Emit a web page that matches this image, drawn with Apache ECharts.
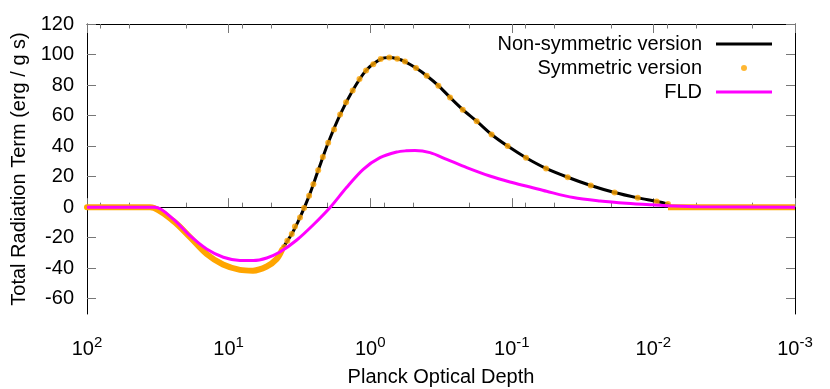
<!DOCTYPE html>
<html>
<head>
<meta charset="utf-8">
<script src="https://cdn.jsdelivr.net/npm/echarts@6/dist/echarts.min.js"></script>
<style>
  html, body { margin: 0; padding: 0; background: #fff; }
  #chart { width: 830px; height: 389px; }
</style>
</head>
<body>
<div id="chart"></div>
<script>
// Planck optical depth (x) and total radiation term (y)

// non-symmetric version (black line)
const nonSymTau  = [100, 35.9, 24.7, 18.75, 14.3, 10.96, 8.32, 6.73, 5.38, 4.57, 4.11, 3.58, 3.13, 2.70, 2.33, 1.98, 1.63, 1.33, 1.07, 0.843, 0.733, 0.644, 0.568, 0.475, 0.399, 0.330, 0.273, 0.222, 0.177, 0.139, 0.107, 0.0794, 0.0573, 0.0403, 0.0277, 0.0188, 0.0129, 0.00948, 0.00789, 0.00741, 0.001];
const nonSymTerm = [0, 0, -8.9, -19.6, -30.7, -37.6, -41.1, -41.6, -38.9, -33.9, -26.3, -17.6, -6.7, 7.4, 24.1, 42.2, 60.7, 76.5, 89.6, 97.0, 98.0, 97.2, 95.4, 91.1, 86.1, 79.6, 71.9, 63.9, 56.3, 47.6, 40.0, 32.4, 25.4, 19.6, 14.2, 9.6, 6.1, 3.7, 2.0, 0, 0];

// symmetric version: separate dots
const symTau  = [4.06, 3.85, 3.58, 3.40, 3.13, 2.93, 2.70, 2.52, 2.33, 2.16, 1.98, 1.80, 1.63, 1.48, 1.33, 1.19, 1.07, 0.951, 0.843, 0.733, 0.644, 0.568, 0.475, 0.399, 0.330, 0.273, 0.222, 0.177, 0.139, 0.107, 0.0794, 0.0573, 0.0403, 0.0277, 0.0188, 0.0129, 0.00948, 0.00789];
const symTerm = [-26.1, -22.0, -17.6, -12.6, -6.7, -0.6, 7.4, 15.0, 24.1, 32.8, 42.2, 50.9, 60.7, 68.7, 76.5, 84.0, 89.6, 93.7, 97.0, 98.0, 97.2, 95.4, 91.1, 86.1, 79.6, 71.9, 63.9, 56.3, 47.6, 40.0, 32.4, 25.4, 19.6, 14.2, 9.6, 6.1, 3.7, 2.0];
// symmetric version: dots so dense they merge into a band
const symBandTau  = [100, 35.9, 24.7, 18.75, 14.3, 10.96, 8.32, 6.73, 5.38, 4.57, 4.2];
const symBandTerm = [0, 0, -8.9, -19.6, -30.7, -37.6, -41.1, -41.6, -38.9, -33.9, -28.0];
const symTailTau  = [0.00789, 0.001];
const symTailTerm = [0, 0];

// FLD (magenta line)
const fldTau  = [100, 33.1, 24.6, 18.75, 14.3, 10.9, 8.32, 6.70, 5.38, 4.34, 3.30, 2.52, 1.92, 1.47, 1.12, 0.853, 0.650, 0.560, 0.483, 0.378, 0.288, 0.208, 0.143, 0.103, 0.0743, 0.0568, 0.0368, 0.0238, 0.0155, 0.01, 0.0072, 0.0047, 0.001];
const fldTerm = [0, 0, -7.8, -18.7, -27.4, -32.8, -34.9, -35.0, -33.3, -29.4, -21.5, -11.5, -0.2, 12.9, 24.8, 32.4, 36.1, 36.9, 37.1, 35.7, 31.3, 25.9, 20.4, 16.5, 13.2, 10.4, 6.3, 4.1, 2.6, 1.5, 0.8, 0.3, 0];

// axis ticks
const xMinorTicks = [80, 50, 20, 8, 5, 2, 0.8, 0.5, 0.2, 0.08, 0.05, 0.02, 0.008, 0.005, 0.002];
const yTicks = [-60, -40, -20, 0, 20, 40, 60, 80, 100, 120];

const FONT = 'Liberation Sans, Arial, sans-serif';
const TICK_COLOR = '#777';
const LINE_ICON = 'path://M0,0H56V3H0Z';

function pairs(xs, ys) {
    return xs.map((x, i) => [x, ys[i]]);
}

// 对数轴：主刻度 / 次刻度 / 上下镜像
function logAxis(position, opts) {
    return Object.assign({
        type: 'log',
        logBase: 10,
        inverse: true,
        min: 0.001,
        max: 100,
        position: position,
        gridIndex: 0,
        splitLine: { show: false },
        axisLine: { show: false },
        axisLabel: { show: false },
        axisTick: { show: false }
    }, opts);
}

function valueAxis(position, opts) {
    return Object.assign({
        type: 'value',
        min: -70,
        max: 120,
        position: position,
        splitLine: { show: false },
        axisLine: { show: true, lineStyle: { color: '#000', width: 1 } },
        axisTick: { show: true, inside: true, length: 9, customValues: yTicks, lineStyle: { color: TICK_COLOR } },
        axisLabel: { show: false }
    }, opts);
}

const chart = echarts.init(document.getElementById('chart'), null, { renderer: 'canvas' });

chart.setOption({
    animation: false,
    backgroundColor: '#fff',
    textStyle: { fontFamily: FONT },
    grid: {
        left: 87, right: 35, top: 24, bottom: 75,
        containLabel: false,
        outerBoundsMode: 'none'
    },
    legend: {
        orient: 'vertical',
        right: 58,
        top: 34,
        padding: 0,
        align: 'right',
        itemWidth: 56,
        itemHeight: 6,
        itemGap: 4,
        selectedMode: false,
        textStyle: { fontSize: 20, color: '#000', fontFamily: FONT, padding: [0, 9, 0, 0] },
        data: [
            { name: 'Non-symmetric version', icon: LINE_ICON },
            { name: 'Symmetric version', icon: 'circle' },
            { name: 'FLD', icon: LINE_ICON }
        ]
    },
    xAxis: [
        logAxis('bottom', {
            axisLine: { show: true, lineStyle: { color: '#000', width: 1 } },
            axisTick: { show: true, inside: true, length: 9, lineStyle: { color: TICK_COLOR } },
            axisLabel: {
                show: true,
                margin: 21,
                color: '#000',
                formatter: v => '{b|10}{sup|' + Math.round(Math.log10(v)) + '}',
                rich: {
                    b: { fontSize: 20, fontFamily: FONT, color: '#000', verticalAlign: 'bottom' },
                    sup: { fontSize: 15, fontFamily: FONT, color: '#000', verticalAlign: 'bottom', padding: [0, 0, 9, 0] }
                }
            },
            name: 'Planck Optical Depth',
            nameLocation: 'middle',
            nameGap: 53,
            nameTextStyle: { fontSize: 20, color: '#000', fontFamily: FONT }
        }),
        logAxis('bottom', {
            axisTick: { show: true, inside: true, length: 4.5, customValues: xMinorTicks, lineStyle: { color: TICK_COLOR } }
        }),
        logAxis('top', {
            axisLine: { show: true, lineStyle: { color: '#000', width: 1 } },
            axisTick: { show: true, inside: true, length: 9, lineStyle: { color: TICK_COLOR } }
        }),
        logAxis('top', {
            axisTick: { show: true, inside: true, length: 4.5, customValues: xMinorTicks, lineStyle: { color: TICK_COLOR } }
        })
    ],
    yAxis: [
        valueAxis('left', {
            axisLabel: {
                show: true,
                customValues: yTicks,
                margin: 13,
                fontSize: 20,
                color: '#000',
                fontFamily: FONT
            },
            name: 'Total Radiation Term (erg / g s)',
            nameLocation: 'middle',
            nameGap: 56,
            nameTextStyle: { fontSize: 20, color: '#000', fontFamily: FONT }
        }),
        valueAxis('right', {})
    ],
    series: [
        {
            name: 'Non-symmetric version',
            type: 'line',
            data: pairs(nonSymTau, nonSymTerm),
            symbol: 'none',
            smooth: 0.3,
            z: 2,
            lineStyle: { color: '#000', width: 3 },
            itemStyle: { color: '#000' },
            emphasis: { disabled: true }
        },
        {
            name: 'Symmetric version',
            type: 'scatter',
            data: pairs(symTau, symTerm),
            symbol: 'circle',
            symbolSize: 6,
            z: 4,
            itemStyle: { color: '#ffa500' },
            emphasis: { disabled: true }
        },
        {
            name: 'Symmetric version',
            type: 'line',
            data: pairs(symBandTau, symBandTerm),
            symbol: 'none',
            smooth: 0.3,
            z: 3,
            lineStyle: { color: '#ffa500', width: 6, cap: 'round' },
            itemStyle: { color: '#ffa500' },
            emphasis: { disabled: true }
        },
        {
            name: 'Symmetric version',
            type: 'line',
            data: pairs(symTailTau, symTailTerm),
            symbol: 'none',
            z: 3,
            lineStyle: { color: '#ffa500', width: 6 },
            itemStyle: { color: '#ffa500' },
            emphasis: { disabled: true }
        },
        {
            name: 'FLD',
            type: 'line',
            data: pairs(fldTau, fldTerm),
            symbol: 'none',
            smooth: 0.3,
            z: 5,
            lineStyle: { color: '#ff00ff', width: 3 },
            itemStyle: { color: '#ff00ff' },
            emphasis: { disabled: true }
        }
    ]
});
</script>
</body>
</html>
